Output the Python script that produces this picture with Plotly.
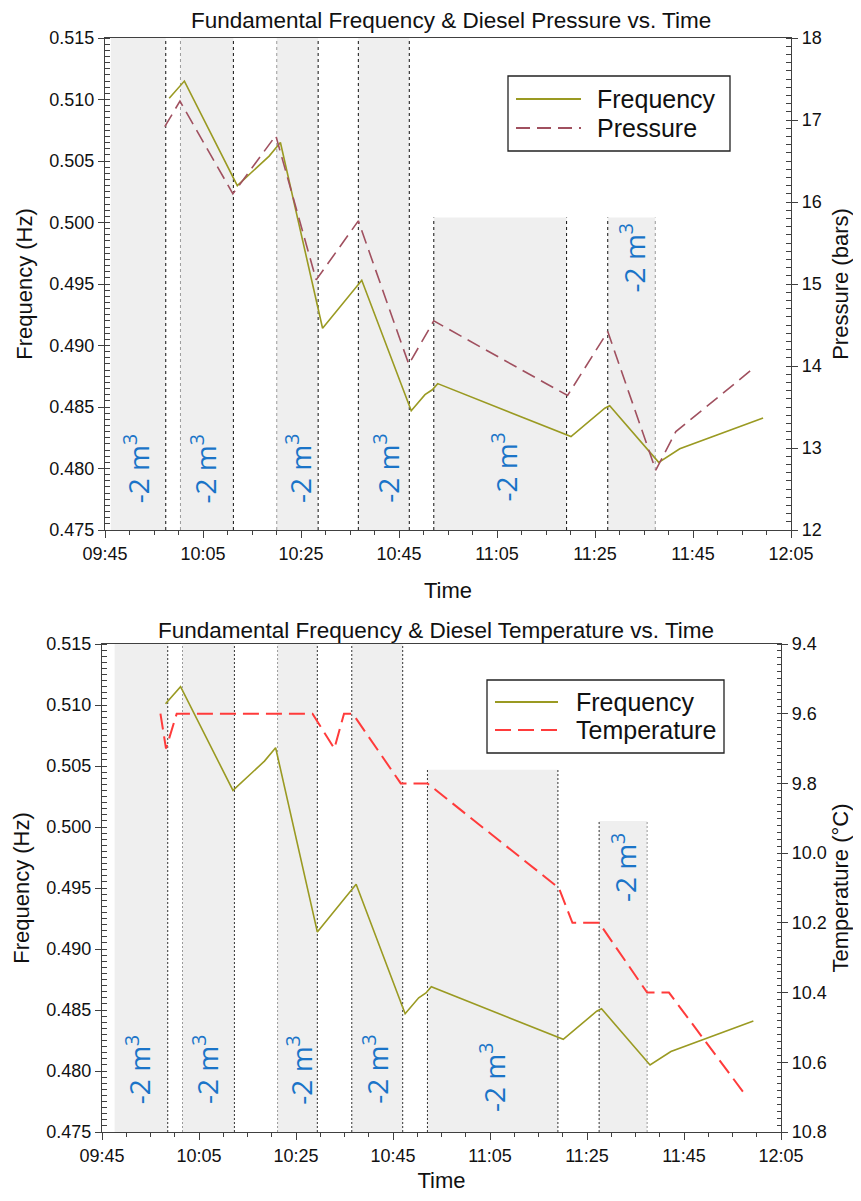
import plotly.graph_objects as go

DAY = "2024-01-01 "

# ---------------- data ----------------
freq_time = ["09:58:06", "10:01:12", "10:12:00", "10:18:30", "10:20:48", "10:29:24",
             "10:37:24", "10:47:30", "10:50:18", "10:51:48", "10:52:54", "11:20:06",
             "11:27:00", "11:28:00", "11:38:00", "11:42:18", "11:59:18"]
freq_val = [0.5101, 0.5115, 0.5030, 0.5054, 0.5065, 0.4914, 0.4953, 0.4847, 0.4860,
            0.4864, 0.4869, 0.4826, 0.4849, 0.4851, 0.4805, 0.4816, 0.4841]

pres_time = ["09:57:12", "10:00:18", "10:11:06", "10:19:51", "10:28:06", "10:36:42",
             "10:47:00", "10:52:06", "11:19:24", "11:27:36", "11:37:24", "11:41:30",
             "11:57:42"]
pres_val = [16.92, 17.23, 16.10, 16.81, 15.05, 15.77, 14.02, 14.55, 13.64, 14.42,
            12.73, 13.20, 13.99]

temp_time = ["09:57:03", "09:58:12", "10:00:24", "10:28:24", "10:32:54", "10:34:54",
             "10:36:42", "10:46:36", "10:52:06", "11:19:12", "11:22:00", "11:27:30",
             "11:37:24", "11:41:54", "11:58:00"]
temp_val = [9.6, 9.7, 9.6, 9.6, 9.7, 9.6, 9.6, 9.8, 9.8, 10.1, 10.2, 10.2, 10.4,
            10.4, 10.7]

# diesel removal periods (shaded)
top_start = ["09:46:12", "10:00:24", "10:20:03", "10:36:42", "10:52:06", "11:27:36"]
top_end = ["09:57:24", "10:11:12", "10:28:30", "10:47:06", "11:19:12", "11:37:18"]
top_top = [0.515, 0.515, 0.515, 0.515, 0.5004, 0.5004]
top_label_time = ["09:51:28", "10:05:12", "10:24:30", "10:42:24", "11:06:30", "11:32:36"]
top_label_y = [0.4800, 0.4800, 0.4800, 0.4800, 0.4801, 0.4971]

bot_start = ["09:47:36", "10:01:36", "10:21:12", "10:36:30", "10:52:06", "11:27:30"]
bot_end = ["09:58:33", "10:12:18", "10:29:24", "10:47:00", "11:19:00", "11:37:24"]
bot_top = [0.515, 0.515, 0.515, 0.515, 0.5047, 0.5005]
bot_label_time = ["09:52:30", "10:06:30", "10:25:48", "10:41:30", "11:05:24", "11:32:36"]
bot_label_y = [0.4801, 0.4801, 0.4801, 0.4801, 0.4795, 0.4967]

label_text = "-2 m<sup>3</sup>"

# ---------------- style ----------------
FONT = "Liberation Sans, Arial, sans-serif"
OLIVE = "#9a9a22"
MAUVE = "#a0505f"
RED = "#ff3b3b"
BLUE = "#1a74c8"
SHADE = "#efefef"
AX = "#404040"

OFF = 8  # page body margin
W, H = 861 - 2 * OFF, 1201 - 2 * OFF
ML, MR, MT, MB = 92, 60, 24, 54
PW, PH = W - ML - MR, H - MT - MB


def px(x):
    return (x - OFF - ML) / PW


def py(y):
    return (H - MB - (y - OFF)) / PH


def d(t):
    return DAY + t


fig = go.Figure()
fig.add_trace(go.Scatter(x=[d(t) for t in freq_time], y=freq_val, mode="lines",
                         line=dict(color=OLIVE, width=1.6), name="Frequency",
                         xaxis="x", yaxis="y", showlegend=False))
fig.add_trace(go.Scatter(x=[d(t) for t in pres_time], y=pres_val, mode="lines",
                         line=dict(color=MAUVE, width=1.6, dash="14px,7px"), name="Pressure",
                         xaxis="x", yaxis="y2", showlegend=False))
fig.add_trace(go.Scatter(x=[d(t) for t in freq_time], y=freq_val, mode="lines",
                         line=dict(color=OLIVE, width=1.6), name="Frequency",
                         xaxis="x2", yaxis="y3", showlegend=False))
fig.add_trace(go.Scatter(x=[d(t) for t in temp_time], y=temp_val, mode="lines",
                         line=dict(color=RED, width=2, dash="16px,7px"), name="Temperature",
                         xaxis="x2", yaxis="y4", showlegend=False))

shapes = []
annotations = []


def add_regions(xref, yref, starts, ends, tops, ymin, dash, dark, light, left_light, right_light):
    for i, (s, e, tp) in enumerate(zip(starts, ends, tops)):
        shapes.append(dict(type="rect", xref=xref, yref=yref, x0=d(s), x1=d(e), y0=ymin, y1=tp,
                           fillcolor=SHADE, line=dict(width=0), layer="below"))
        if i > 0:
            shapes.append(dict(type="line", xref=xref, yref=yref, x0=d(s), x1=d(s), y0=ymin, y1=tp,
                               line=dict(color=light if i in left_light else dark, width=1, dash=dash),
                               layer="below"))
        shapes.append(dict(type="line", xref=xref, yref=yref, x0=d(e), x1=d(e), y0=ymin, y1=tp,
                           line=dict(color=light if i in right_light else dark, width=1, dash=dash),
                           layer="below"))


add_regions("x", "y", top_start, top_end, top_top, 0.475, "3px,3px", "#111111", "#9a9a9a",
            {1, 2}, {5})
add_regions("x2", "y3", bot_start, bot_end, bot_top, 0.475, "2px,2px", "#333333", "#9a9a9a",
            {1, 2}, {5})

LABEL_FONT = dict(family="Open Sans, sans-serif", size=28, color=BLUE)
for t, yv in zip(top_label_time, top_label_y):
    annotations.append(dict(xref="x", yref="y", x=d(t), y=yv, text=label_text, showarrow=False,
                            textangle=-90, font=LABEL_FONT))
for t, yv in zip(bot_label_time, bot_label_y):
    annotations.append(dict(xref="x2", yref="y3", x=d(t), y=yv, text=label_text, showarrow=False,
                            textangle=-90, font=LABEL_FONT))

# titles
annotations.append(dict(xref="paper", yref="paper", x=px(451), y=py(21),
                        xanchor="center", yanchor="middle",
                        text="Fundamental Frequency &amp; Diesel Pressure vs. Time",
                        showarrow=False, font=dict(family=FONT, size=22.5, color="#111")))
annotations.append(dict(xref="paper", yref="paper", x=px(436), y=py(630),
                        xanchor="center", yanchor="middle",
                        text="Fundamental Frequency &amp; Diesel Temperature vs. Time",
                        showarrow=False, font=dict(family=FONT, size=22.5, color="#111")))


def manual_legend(x0, x1, y0, y1, lx0, lx1, rows, tx, entries):
    shapes.append(dict(type="rect", xref="paper", yref="paper", x0=px(x0), x1=px(x1),
                       y0=py(y1), y1=py(y0), line=dict(color="#222", width=1.3),
                       fillcolor="white", layer="above"))
    for ry, (name, color, dash, wdt) in zip(rows, entries):
        shapes.append(dict(type="line", xref="paper", yref="paper", x0=px(lx0), x1=px(lx1),
                           y0=py(ry), y1=py(ry), line=dict(color=color, width=wdt, dash=dash),
                           layer="above"))
        annotations.append(dict(xref="paper", yref="paper", x=px(tx), y=py(ry), text=name,
                                xanchor="left", yanchor="middle", showarrow=False,
                                font=dict(family=FONT, size=25, color="#111")))


manual_legend(508, 730, 76, 151, 516, 581, [99, 128], 595,
              [("Frequency", OLIVE, "solid", 2), ("Pressure", MAUVE, "14px,7px", 1.8)])
manual_legend(487, 724, 680, 753, 495, 558, [702, 730], 574,
              [("Frequency", OLIVE, "solid", 2), ("Temperature", RED, "16px,7px", 2)])

tickfont = dict(family=FONT, size=18, color="#111")
titlefont = dict(family=FONT, size=22, color="#111")

xcommon = dict(type="date", range=[d("09:45:00"), d("12:05:00")], tick0=d("09:45:00"),
               dtick=20 * 60 * 1000, tickformat="%H:%M", ticks="outside", ticklen=7,
               tickcolor=AX, showline=True, linecolor=AX, linewidth=1.3, mirror=True,
               showgrid=False, zeroline=False, tickfont=tickfont, automargin=False,
               minor=dict(dtick=5 * 60 * 1000, ticks="outside", ticklen=4, tickcolor=AX),
               title=dict(text="Time", font=titlefont, standoff=19))

yleft = dict(range=[0.475, 0.515], dtick=0.005, tickformat=".3f", ticks="outside", ticklen=6,
             tickcolor=AX, showline=True, linecolor=AX, linewidth=1.3, showgrid=False,
             zeroline=False, tickfont=tickfont, automargin=False,
             minor=dict(dtick=0.0005, ticks="inside", ticklen=5, tickcolor=AX),
             title=dict(text="Frequency (Hz)", font=titlefont, standoff=10))

fig.update_layout(
    width=W, height=H,
    margin=dict(l=ML, r=MR, t=MT, b=MB, autoexpand=False),
    paper_bgcolor="white", plot_bgcolor="white",
    showlegend=False,
    xaxis=dict(xcommon, domain=[px(105), px(791)], anchor="y"),
    yaxis=dict(yleft, domain=[py(530), py(38)], anchor="x"),
    yaxis2=dict(range=[12, 18], dtick=1, overlaying="y", side="right", anchor="x",
                ticks="outside", ticklen=6, tickcolor=AX, showline=True, linecolor=AX,
                linewidth=1.3, showgrid=False, zeroline=False, tickfont=tickfont,
                automargin=False,
                minor=dict(dtick=0.1, ticks="inside", ticklen=5, tickcolor=AX),
                title=dict(text="Pressure (bars)", font=titlefont, standoff=14)),
    xaxis2=dict(xcommon, domain=[px(102), px(781)], anchor="y3"),
    yaxis3=dict(yleft, domain=[py(1132), py(644)], anchor="x2"),
    yaxis4=dict(range=[10.8, 9.4], dtick=0.2, tickformat=".1f", overlaying="y3", side="right",
                anchor="x2", ticks="outside", ticklen=6, tickcolor=AX, showline=True,
                linecolor=AX, linewidth=1.3, showgrid=False, zeroline=False, tickfont=tickfont,
                automargin=False,
                minor=dict(dtick=0.02, ticks="inside", ticklen=4, tickcolor=AX),
                title=dict(text="Temperature (°C)", font=titlefont, standoff=12)),
    shapes=shapes,
    annotations=annotations,
)

fig.write_html("out.html")
